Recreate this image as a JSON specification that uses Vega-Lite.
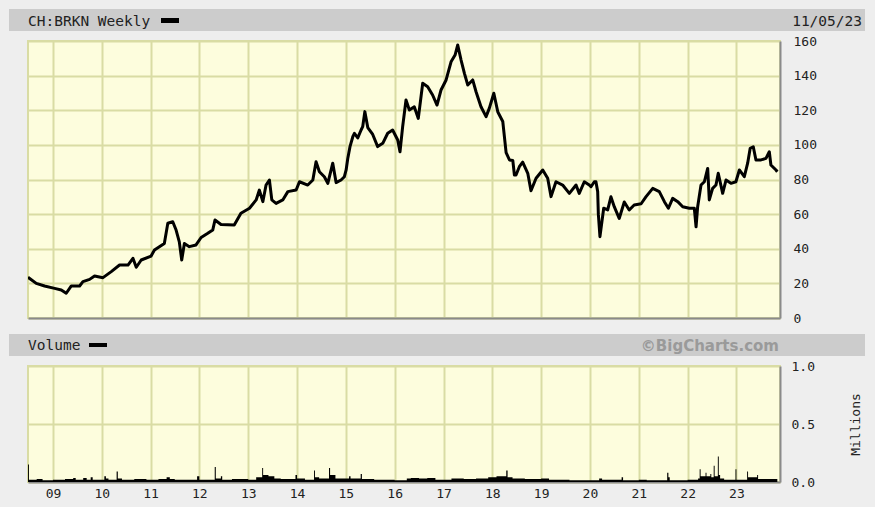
{
  "$schema": "https://vega.github.io/schema/vega-lite/v6.json",
  "background": "#eeeeee",
  "padding": {"left": 9, "top": 9, "right": 10, "bottom": 12},
  "config": {
    "view": {"stroke": null},
    "axis": {"labelFont": "DejaVu Sans Mono", "labelFontSize": 13, "labelColor": "#222222", "titleFont": "DejaVu Sans Mono", "titleFontSize": 13, "titleFontWeight": "normal", "titleColor": "#222222", "gridColor": "#d9dca4", "gridWidth": 2, "gridOpacity": 1}
  },
  "datasets": {
    "header": [{"symbol": "CH:BRKN Weekly", "asof": "11/05/23", "panel": "Volume", "credit": "©BigCharts.com"}],
    "price": [
      {"date": "2008-06-28", "close": 23.5}, {"date": "2008-08-29", "close": 20}, {"date": "2008-10-30", "close": 18.5}, {"date": "2009-01-13", "close": 17.1}, {"date": "2009-03-04", "close": 16.2}, {"date": "2009-04-10", "close": 14.3}, {"date": "2009-05-18", "close": 18.5}, {"date": "2009-07-19", "close": 18.5}, {"date": "2009-08-13", "close": 21}, {"date": "2009-10-02", "close": 22.3}, {"date": "2009-11-08", "close": 24.3}, {"date": "2010-01-10", "close": 23.3}, {"date": "2010-03-13", "close": 26.8}, {"date": "2010-05-14", "close": 30.6}, {"date": "2010-07-16", "close": 30.6}, {"date": "2010-08-22", "close": 34.5}, {"date": "2010-09-16", "close": 29.3}, {"date": "2010-10-23", "close": 33.5}, {"date": "2011-01-05", "close": 35.8}, {"date": "2011-01-30", "close": 39.3}, {"date": "2011-04-14", "close": 43.1}, {"date": "2011-05-10", "close": 54.7}, {"date": "2011-06-16", "close": 55.6}, {"date": "2011-07-11", "close": 50.8}, {"date": "2011-08-04", "close": 44}, {"date": "2011-08-22", "close": 33.5}, {"date": "2011-09-11", "close": 43}, {"date": "2011-10-18", "close": 41.2}, {"date": "2011-12-07", "close": 42.2}, {"date": "2012-01-14", "close": 46.5}, {"date": "2012-03-04", "close": 48.9}, {"date": "2012-04-10", "close": 50.8}, {"date": "2012-04-27", "close": 56.6}, {"date": "2012-06-11", "close": 54}, {"date": "2012-09-18", "close": 53.7}, {"date": "2012-11-07", "close": 60.5}, {"date": "2013-01-10", "close": 63.4}, {"date": "2013-03-01", "close": 68.2}, {"date": "2013-03-25", "close": 73.9}, {"date": "2013-04-20", "close": 67.2}, {"date": "2013-05-14", "close": 76.8}, {"date": "2013-06-08", "close": 79.7}, {"date": "2013-06-26", "close": 68.2}, {"date": "2013-07-28", "close": 66.2}, {"date": "2013-09-16", "close": 68.2}, {"date": "2013-10-24", "close": 73}, {"date": "2013-12-25", "close": 73.9}, {"date": "2014-01-19", "close": 78.7}, {"date": "2014-03-22", "close": 76.8}, {"date": "2014-04-29", "close": 79.7}, {"date": "2014-05-23", "close": 90.3}, {"date": "2014-06-17", "close": 84.5}, {"date": "2014-07-24", "close": 81.6}, {"date": "2014-08-19", "close": 77.8}, {"date": "2014-09-25", "close": 89.4}, {"date": "2014-10-20", "close": 78.2}, {"date": "2014-11-26", "close": 79.7}, {"date": "2014-12-21", "close": 81.6}, {"date": "2015-01-03", "close": 85.5}, {"date": "2015-01-15", "close": 92}, {"date": "2015-02-01", "close": 99}, {"date": "2015-02-22", "close": 104.7}, {"date": "2015-03-06", "close": 106.7}, {"date": "2015-03-31", "close": 104}, {"date": "2015-04-25", "close": 108.6}, {"date": "2015-05-07", "close": 110.5}, {"date": "2015-05-23", "close": 119.2}, {"date": "2015-06-14", "close": 110}, {"date": "2015-07-21", "close": 106}, {"date": "2015-08-27", "close": 99}, {"date": "2015-10-04", "close": 100.9}, {"date": "2015-11-10", "close": 106.7}, {"date": "2015-12-17", "close": 108.6}, {"date": "2016-01-24", "close": 102.8}, {"date": "2016-02-10", "close": 96}, {"date": "2016-03-01", "close": 110.5}, {"date": "2016-03-26", "close": 125.9}, {"date": "2016-04-20", "close": 120.1}, {"date": "2016-05-27", "close": 122}, {"date": "2016-06-26", "close": 115.3}, {"date": "2016-07-29", "close": 135.6}, {"date": "2016-09-04", "close": 133.6}, {"date": "2016-10-11", "close": 128.8}, {"date": "2016-11-13", "close": 123}, {"date": "2016-12-13", "close": 131.7}, {"date": "2017-01-20", "close": 137.5}, {"date": "2017-02-26", "close": 148}, {"date": "2017-03-28", "close": 151.9}, {"date": "2017-04-17", "close": 157.7}, {"date": "2017-05-12", "close": 149}, {"date": "2017-06-06", "close": 141.3}, {"date": "2017-07-01", "close": 134.6}, {"date": "2017-08-07", "close": 137.5}, {"date": "2017-09-01", "close": 130.7}, {"date": "2017-10-08", "close": 122}, {"date": "2017-11-15", "close": 116.3}, {"date": "2017-12-09", "close": 121.1}, {"date": "2018-01-12", "close": 129.8}, {"date": "2018-02-11", "close": 119}, {"date": "2018-03-20", "close": 113.5}, {"date": "2018-04-14", "close": 95.5}, {"date": "2018-05-09", "close": 91.3}, {"date": "2018-06-03", "close": 91}, {"date": "2018-06-15", "close": 82.6}, {"date": "2018-06-27", "close": 82.6}, {"date": "2018-07-22", "close": 87.4}, {"date": "2018-08-16", "close": 90}, {"date": "2018-09-23", "close": 83.6}, {"date": "2018-10-17", "close": 73.5}, {"date": "2018-11-24", "close": 80.7}, {"date": "2019-01-13", "close": 85.5}, {"date": "2019-02-19", "close": 80.7}, {"date": "2019-03-16", "close": 70.1}, {"date": "2019-04-22", "close": 78.7}, {"date": "2019-06-11", "close": 76.8}, {"date": "2019-07-31", "close": 72}, {"date": "2019-09-19", "close": 76.8}, {"date": "2019-10-13", "close": 72}, {"date": "2019-11-20", "close": 78.7}, {"date": "2019-12-27", "close": 76.8}, {"date": "2020-01-09", "close": 75.8}, {"date": "2020-02-03", "close": 78.7}, {"date": "2020-02-15", "close": 78.7}, {"date": "2020-02-28", "close": 73}, {"date": "2020-03-04", "close": 60}, {"date": "2020-03-16", "close": 47}, {"date": "2020-04-13", "close": 63.4}, {"date": "2020-05-13", "close": 62.4}, {"date": "2020-06-06", "close": 70}, {"date": "2020-07-01", "close": 64.3}, {"date": "2020-08-07", "close": 57.5}, {"date": "2020-09-14", "close": 67}, {"date": "2020-10-21", "close": 62.4}, {"date": "2020-11-27", "close": 65.3}, {"date": "2021-01-18", "close": 66}, {"date": "2021-02-24", "close": 70.1}, {"date": "2021-04-15", "close": 74.9}, {"date": "2021-06-03", "close": 73}, {"date": "2021-07-11", "close": 67.2}, {"date": "2021-08-10", "close": 63.4}, {"date": "2021-09-11", "close": 69.1}, {"date": "2021-10-19", "close": 67.2}, {"date": "2021-11-25", "close": 64.3}, {"date": "2022-01-14", "close": 63.4}, {"date": "2022-02-20", "close": 63.4}, {"date": "2022-03-05", "close": 52.7}, {"date": "2022-03-17", "close": 64.3}, {"date": "2022-04-11", "close": 76.8}, {"date": "2022-05-06", "close": 78.7}, {"date": "2022-05-31", "close": 86.4}, {"date": "2022-06-12", "close": 68.2}, {"date": "2022-07-07", "close": 74.9}, {"date": "2022-08-01", "close": 76.8}, {"date": "2022-08-18", "close": 83.6}, {"date": "2022-09-20", "close": 72}, {"date": "2022-10-15", "close": 79.7}, {"date": "2022-11-21", "close": 77.8}, {"date": "2022-12-28", "close": 78.7}, {"date": "2023-01-23", "close": 85.5}, {"date": "2023-03-01", "close": 81.6}, {"date": "2023-03-26", "close": 89.4}, {"date": "2023-04-14", "close": 98}, {"date": "2023-05-07", "close": 98.9}, {"date": "2023-05-27", "close": 91.3}, {"date": "2023-07-04", "close": 91.3}, {"date": "2023-08-10", "close": 92.2}, {"date": "2023-09-04", "close": 96}, {"date": "2023-09-16", "close": 88.4}, {"date": "2023-10-24", "close": 85.5}, {"date": "2023-11-03", "close": 84.5}
    ],
    "volume": [
      {"date": "2008-06-28", "volume": 0.15}, {"date": "2008-07-05", "volume": 0.02}, {"date": "2008-09-01", "volume": 0.025}, {"date": "2008-10-15", "volume": 0.015}, {"date": "2009-01-01", "volume": 0.02}, {"date": "2009-04-01", "volume": 0.025}, {"date": "2009-06-01", "volume": 0.035}, {"date": "2009-06-20", "volume": 0.02}, {"date": "2009-08-15", "volume": 0.035}, {"date": "2009-09-10", "volume": 0.02}, {"date": "2009-10-10", "volume": 0.04}, {"date": "2009-10-25", "volume": 0.02}, {"date": "2010-01-20", "volume": 0.05}, {"date": "2010-02-01", "volume": 0.03}, {"date": "2010-02-20", "volume": 0.02}, {"date": "2010-04-22", "volume": 0.09}, {"date": "2010-05-01", "volume": 0.03}, {"date": "2010-06-01", "volume": 0.02}, {"date": "2010-09-01", "volume": 0.025}, {"date": "2010-12-01", "volume": 0.02}, {"date": "2011-03-01", "volume": 0.025}, {"date": "2011-05-01", "volume": 0.04}, {"date": "2011-05-25", "volume": 0.025}, {"date": "2011-07-01", "volume": 0.02}, {"date": "2011-12-15", "volume": 0.05}, {"date": "2012-01-01", "volume": 0.02}, {"date": "2012-04-25", "volume": 0.13}, {"date": "2012-05-03", "volume": 0.03}, {"date": "2012-06-10", "volume": 0.05}, {"date": "2012-06-20", "volume": 0.02}, {"date": "2012-09-01", "volume": 0.025}, {"date": "2013-01-01", "volume": 0.02}, {"date": "2013-03-01", "volume": 0.04}, {"date": "2013-04-15", "volume": 0.12}, {"date": "2013-04-22", "volume": 0.06}, {"date": "2013-06-01", "volume": 0.05}, {"date": "2013-07-15", "volume": 0.03}, {"date": "2013-09-01", "volume": 0.025}, {"date": "2013-12-20", "volume": 0.06}, {"date": "2014-01-01", "volume": 0.03}, {"date": "2014-03-01", "volume": 0.02}, {"date": "2014-05-08", "volume": 0.1}, {"date": "2014-05-15", "volume": 0.04}, {"date": "2014-06-15", "volume": 0.03}, {"date": "2014-08-28", "volume": 0.12}, {"date": "2014-09-05", "volume": 0.06}, {"date": "2014-10-15", "volume": 0.03}, {"date": "2015-01-25", "volume": 0.05}, {"date": "2015-02-05", "volume": 0.03}, {"date": "2015-04-22", "volume": 0.07}, {"date": "2015-05-01", "volume": 0.025}, {"date": "2015-08-01", "volume": 0.02}, {"date": "2016-01-01", "volume": 0.015}, {"date": "2016-04-01", "volume": 0.03}, {"date": "2016-05-01", "volume": 0.035}, {"date": "2016-07-01", "volume": 0.03}, {"date": "2016-09-01", "volume": 0.035}, {"date": "2016-11-01", "volume": 0.02}, {"date": "2017-03-01", "volume": 0.03}, {"date": "2017-06-01", "volume": 0.025}, {"date": "2017-09-01", "volume": 0.03}, {"date": "2017-12-01", "volume": 0.04}, {"date": "2018-02-01", "volume": 0.05}, {"date": "2018-04-15", "volume": 0.1}, {"date": "2018-04-25", "volume": 0.04}, {"date": "2018-06-01", "volume": 0.03}, {"date": "2018-09-01", "volume": 0.025}, {"date": "2019-01-01", "volume": 0.03}, {"date": "2019-03-01", "volume": 0.02}, {"date": "2019-08-01", "volume": 0.015}, {"date": "2020-01-01", "volume": 0.015}, {"date": "2020-03-10", "volume": 0.03}, {"date": "2020-04-01", "volume": 0.02}, {"date": "2020-08-25", "volume": 0.04}, {"date": "2020-09-05", "volume": 0.015}, {"date": "2021-01-01", "volume": 0.02}, {"date": "2021-03-01", "volume": 0.015}, {"date": "2021-08-01", "volume": 0.08}, {"date": "2021-08-10", "volume": 0.04}, {"date": "2021-08-20", "volume": 0.015}, {"date": "2022-01-01", "volume": 0.02}, {"date": "2022-03-20", "volume": 0.03}, {"date": "2022-04-01", "volume": 0.11}, {"date": "2022-04-08", "volume": 0.05}, {"date": "2022-05-15", "volume": 0.08}, {"date": "2022-05-22", "volume": 0.05}, {"date": "2022-06-20", "volume": 0.07}, {"date": "2022-06-27", "volume": 0.04}, {"date": "2022-07-15", "volume": 0.14}, {"date": "2022-07-22", "volume": 0.05}, {"date": "2022-08-15", "volume": 0.22}, {"date": "2022-08-22", "volume": 0.06}, {"date": "2022-09-01", "volume": 0.03}, {"date": "2022-10-01", "volume": 0.02}, {"date": "2022-12-25", "volume": 0.11}, {"date": "2023-01-01", "volume": 0.02}, {"date": "2023-03-22", "volume": 0.09}, {"date": "2023-03-29", "volume": 0.04}, {"date": "2023-06-05", "volume": 0.06}, {"date": "2023-06-12", "volume": 0.025}, {"date": "2023-11-03", "volume": 0.02}
    ]
  },
  "vconcat": [
    {
      "spacing": 3,
      "vconcat": [
        {
          "width": 856, "height": 22,
          "view": {"fill": "#cccccc", "stroke": null},
          "data": {"name": "header"},
          "layer": [
            {"mark": {"type": "text", "align": "left", "baseline": "alphabetic", "font": "DejaVu Sans Mono", "fontSize": 14.5, "color": "#222222"}, "encoding": {"text": {"field": "symbol"}, "x": {"value": 19}, "y": {"value": 17}}},
            {"mark": {"type": "rect", "color": "#000000"}, "encoding": {"x": {"value": 152}, "x2": {"value": 170}, "y": {"value": 9}, "y2": {"value": 14}}},
            {"mark": {"type": "text", "align": "right", "baseline": "alphabetic", "font": "DejaVu Sans Mono", "fontSize": 14.5, "color": "#222222"}, "encoding": {"text": {"field": "asof"}, "x": {"value": 853}, "y": {"value": 17}}}
          ]
        },
        {
          "spacing": 0,
          "hconcat": [
            {"width": 18, "height": 277, "data": {"values": []}, "mark": "point", "view": {"stroke": null}},
            {
              "width": 752, "height": 277,
              "view": {"fill": "#fdfddd", "stroke": "#d9dca4", "strokeWidth": 2},
              "data": {"name": "price"},
              "mark": {"type": "line", "color": "#000000", "strokeWidth": 3, "strokeJoin": "round", "clip": true},
              "encoding": {
                "x": {"field": "date", "type": "temporal", "scale": {"type": "utc", "domain": [{"year": 2008, "month": 6, "date": 28, "utc": true}, {"year": 2023, "month": 11, "date": 23, "utc": true}]}, "axis": {"title": null, "labels": false, "ticks": false, "grid": true, "domain": true, "domainColor": "#8a8a8a", "domainWidth": 2, "tickCount": {"interval": "year", "step": 1}}},
                "y": {"field": "close", "type": "quantitative", "scale": {"domain": [0, 160], "nice": false}, "axis": {"orient": "right", "title": null, "values": [0, 20, 40, 60, 80, 100, 120, 140, 160], "ticks": false, "labelPadding": 13, "grid": true, "domain": true, "domainColor": "#8a8a8a", "domainWidth": 2}}
              }
            }
          ]
        }
      ]
    },
    {
      "spacing": 3,
      "vconcat": [
        {
          "width": 856, "height": 22,
          "view": {"fill": "#cccccc", "stroke": null},
          "data": {"name": "header"},
          "layer": [
            {"mark": {"type": "text", "align": "left", "baseline": "alphabetic", "font": "DejaVu Sans Mono", "fontSize": 14.5, "color": "#222222"}, "encoding": {"text": {"field": "panel"}, "x": {"value": 19}, "y": {"value": 16}}},
            {"mark": {"type": "rect", "color": "#000000"}, "encoding": {"x": {"value": 80}, "x2": {"value": 98}, "y": {"value": 9}, "y2": {"value": 13}}},
            {"mark": {"type": "text", "align": "right", "baseline": "alphabetic", "font": "DejaVu Sans", "fontWeight": "bold", "fontSize": 15, "color": "#9a9a9a"}, "encoding": {"text": {"field": "credit"}, "x": {"value": 770}, "y": {"value": 17}}}
          ]
        },
        {
          "spacing": 0,
          "hconcat": [
            {"width": 18, "height": 116, "data": {"values": []}, "mark": "point", "view": {"stroke": null}},
            {
              "width": 752, "height": 116,
              "view": {"fill": "#fdfddd", "stroke": "#d9dca4", "strokeWidth": 2},
              "data": {"name": "volume"},
              "mark": {"type": "area", "color": "#000000", "interpolate": "step-after", "clip": true},
              "encoding": {
                "x": {"field": "date", "type": "temporal", "scale": {"type": "utc", "domain": [{"year": 2008, "month": 6, "date": 28, "utc": true}, {"year": 2023, "month": 11, "date": 23, "utc": true}]}, "axis": {"title": null, "format": "%y", "labels": true, "ticks": false, "labelPadding": 5, "grid": true, "domain": true, "domainColor": "#8a8a8a", "domainWidth": 2, "tickCount": {"interval": "year", "step": 1}}},
                "y": {"field": "volume", "type": "quantitative", "scale": {"domain": [0, 1], "nice": false}, "axis": {"orient": "right", "title": "Millions", "titleAngle": 270, "titleBaseline": "top", "titlePadding": 35, "values": [0, 0.5, 1], "format": ".1f", "ticks": false, "labelPadding": 11, "grid": true, "domain": true, "domainColor": "#8a8a8a", "domainWidth": 2}}
              }
            }
          ]
        }
      ]
    }
  ],
  "spacing": 8
}
